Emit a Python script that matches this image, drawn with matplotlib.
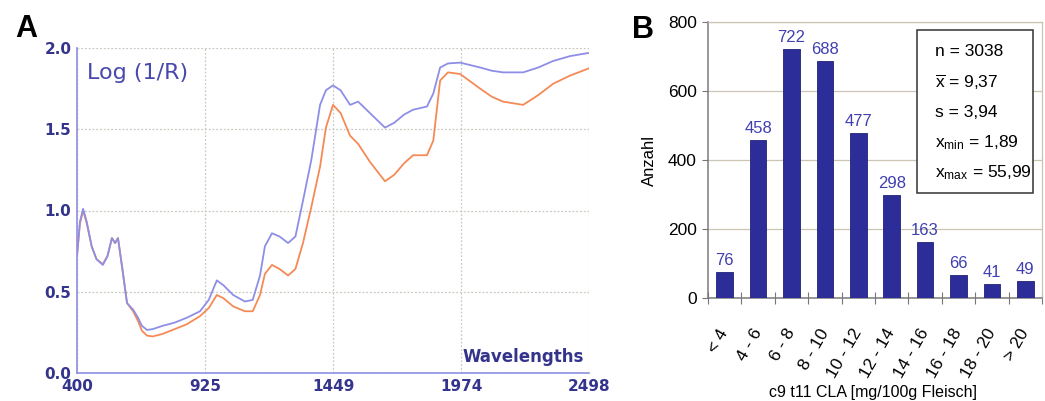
import matplotlib
matplotlib.use("Agg")
import matplotlib.pyplot as plt
import matplotlib.transforms as mtrans
import numpy as np

# ---------------- data: panel A (NIR spectra) ----------------
wavelength = [400, 412, 425, 440, 460, 480, 506, 525, 543, 556, 568, 585, 605, 630, 650,
              666, 687, 710, 750, 800, 850, 904, 940, 973, 1000, 1040, 1088, 1120, 1150,
              1170, 1199, 1230, 1265, 1295, 1326, 1360, 1396, 1420, 1449, 1480, 1519,
              1552, 1600, 1662, 1700, 1740, 1777, 1834, 1860, 1888, 1920, 1970, 2052,
              2100, 2146, 2228, 2290, 2351, 2420, 2498]
spec_blue = [0.72, 0.93, 1.01, 0.93, 0.78, 0.70, 0.665, 0.72, 0.83, 0.80, 0.83, 0.65, 0.43,
             0.39, 0.34, 0.29, 0.265, 0.27, 0.29, 0.31, 0.34, 0.38, 0.45, 0.57, 0.54, 0.48,
             0.44, 0.45, 0.60, 0.78, 0.86, 0.84, 0.80, 0.84, 1.06, 1.31, 1.65, 1.74, 1.77,
             1.74, 1.65, 1.67, 1.60, 1.51, 1.54, 1.59, 1.62, 1.64, 1.72, 1.88, 1.905, 1.91,
             1.88, 1.86, 1.85, 1.85, 1.88, 1.92, 1.95, 1.97]
spec_orange = [0.72, 0.92, 1.00, 0.92, 0.78, 0.70, 0.67, 0.72, 0.83, 0.80, 0.83, 0.65, 0.43,
               0.38, 0.32, 0.26, 0.23, 0.225, 0.24, 0.27, 0.30, 0.35, 0.40, 0.48, 0.46, 0.41,
               0.38, 0.38, 0.48, 0.61, 0.665, 0.64, 0.60, 0.64, 0.80, 1.02, 1.27, 1.51, 1.65,
               1.60, 1.46, 1.41, 1.30, 1.18, 1.22, 1.29, 1.34, 1.34, 1.43, 1.80, 1.85, 1.84,
               1.75, 1.70, 1.67, 1.65, 1.71, 1.78, 1.83, 1.875]
a_xticks = [400, 925, 1449, 1974, 2498]
a_yticks = [0.0, 0.5, 1.0, 1.5, 2.0]

# ---------------- data: panel B (histogram) ----------------
classes = ["< 4", "4 - 6", "6 - 8", "8 - 10", "10 - 12", "12 - 14", "14 - 16",
           "16 - 18", "18 - 20", "> 20"]
counts = [76, 458, 722, 688, 477, 298, 163, 66, 41, 49]
b_yticks = [0, 200, 400, 600, 800]
stats_lines = ["n = 3038", r"$\overline{\mathrm{x}}$ = 9,37", "s = 3,94",
               r"x$_{\mathrm{min}}$ = 1,89", r"x$_{\mathrm{max}}$ = 55,99"]

plt.rcParams['mathtext.fontset'] = 'custom'
plt.rcParams['mathtext.rm'] = 'Liberation Sans'
plt.rcParams['mathtext.it'] = 'Liberation Sans'

W, H = 1045, 401
fig = plt.figure(figsize=(W / 100, H / 100), dpi=100)
fig.patch.set_facecolor("white")

def ax_rect(l, t, r, b):
    return [l / W, 1 - b / H, (r - l) / W, (b - t) / H]

# ================= Panel A =================
axA = fig.add_axes(ax_rect(77, 48, 589, 373))
axA.plot(wavelength, spec_orange, color="#f58a55", lw=1.3, zorder=3)
axA.plot(wavelength, spec_blue, color="#8e8ee6", lw=1.3, zorder=4)
axA.set_xlim(400, 2498)
axA.set_ylim(0, 2.0)
axA.set_xticks(a_xticks)
axA.set_yticks(a_yticks)
axA.set_xticklabels([str(v) for v in a_xticks])
axA.set_yticklabels([f"{v:.1f}" for v in a_yticks])
axA.grid(True, color="#c9c9c0", ls=(0, (1.5, 1.5)), lw=0.9, zorder=0)
for s in ["top", "right"]:
    axA.spines[s].set_visible(False)
for s in ["left", "bottom"]:
    axA.spines[s].set_color("#8f8fe0")
    axA.spines[s].set_linewidth(1.2)
axA.tick_params(length=0, pad=4, labelcolor="#34348c")
for lab in axA.get_xticklabels() + axA.get_yticklabels():
    lab.set_fontfamily("DejaVu Sans")
    lab.set_fontweight("bold")
    lab.set_fontsize(11)
axA.text(0.02, 0.955, "Log (1/R)", transform=axA.transAxes, fontsize=16,
         color="#4848ad", family="DejaVu Sans", ha="left", va="top")
axA.text(0.99, 0.02, "Wavelengths", transform=axA.transAxes, fontsize=12,
         color="#34348c", family="DejaVu Sans", weight="bold", ha="right", va="bottom")

fig.text(15 / W, 1 - 37 / H, "A", fontsize=22, weight="bold", family="Liberation Sans",
         ha="left", va="baseline")

# ================= Panel B =================
axB = fig.add_axes(ax_rect(708, 22, 1042, 298))
x = np.arange(len(classes))
axB.bar(x, counts, width=0.5, color="#2d2d9a", edgecolor="#22227a", lw=0.6, zorder=3)
for xi, c in zip(x, counts):
    axB.text(xi, c + 12, str(c), ha="center", va="bottom", fontsize=12,
             color="#3f3fb0", family="Liberation Sans")
axB.set_xlim(-0.5, len(classes) - 0.5)
axB.set_ylim(0, 800)
axB.set_yticks(b_yticks)
axB.set_yticklabels([str(v) for v in b_yticks], fontsize=12.5, family="Liberation Sans")
axB.yaxis.grid(True, color="#cbc6b4", lw=0.9, zorder=0)
axB.set_xticks(np.arange(-0.5, len(classes)), minor=False)
axB.set_xticklabels([])
axB.set_xticks(x, minor=True)
axB.set_xticklabels(classes, minor=True, rotation=60, ha="right", va="center",
                    rotation_mode="anchor", fontsize=12.5, family="Liberation Sans")
shift = mtrans.ScaledTranslation(3 / 100, 0, fig.dpi_scale_trans)
for lab in axB.get_xticklabels(minor=True):
    lab.set_transform(lab.get_transform() + shift)
axB.tick_params(axis="x", which="major", direction="inout", length=8, color="#777777")
axB.tick_params(axis="x", which="minor", length=0, pad=23)
axB.tick_params(axis="y", direction="out", length=4, color="#777777", pad=4)
for s in ["left", "bottom"]:
    axB.spines[s].set_color("#7a7a7a")
    axB.spines[s].set_linewidth(1.1)
for s in ["top", "right"]:
    axB.spines[s].set_color("#cbc6b4")
    axB.spines[s].set_linewidth(0.9)
axB.set_ylabel("Anzahl", fontsize=12, family="Liberation Sans", labelpad=8)
fig.text(873 / W, 1 - 392 / H, "c9 t11 CLA [mg/100g Fleisch]", fontsize=11.5,
         family="Liberation Sans", ha="center", va="center")

# stats box
box = plt.Rectangle((917 / W, 1 - 193 / H), (1033 - 917) / W, (193 - 30) / H,
                    transform=fig.transFigure, facecolor="white", edgecolor="#333333",
                    lw=1.1, zorder=5)
fig.patches.append(box)
for i, line in enumerate(stats_lines):
    fig.text(935 / W, 1 - (52 + i * 30.2) / H, line, fontsize=12.5,
             family="Liberation Sans", ha="left", va="center", zorder=6)

fig.text(632 / W, 1 - 38 / H, "B", fontsize=22, weight="bold", family="Liberation Sans",
         ha="left", va="baseline")

fig.savefig("out.png", dpi=100)
